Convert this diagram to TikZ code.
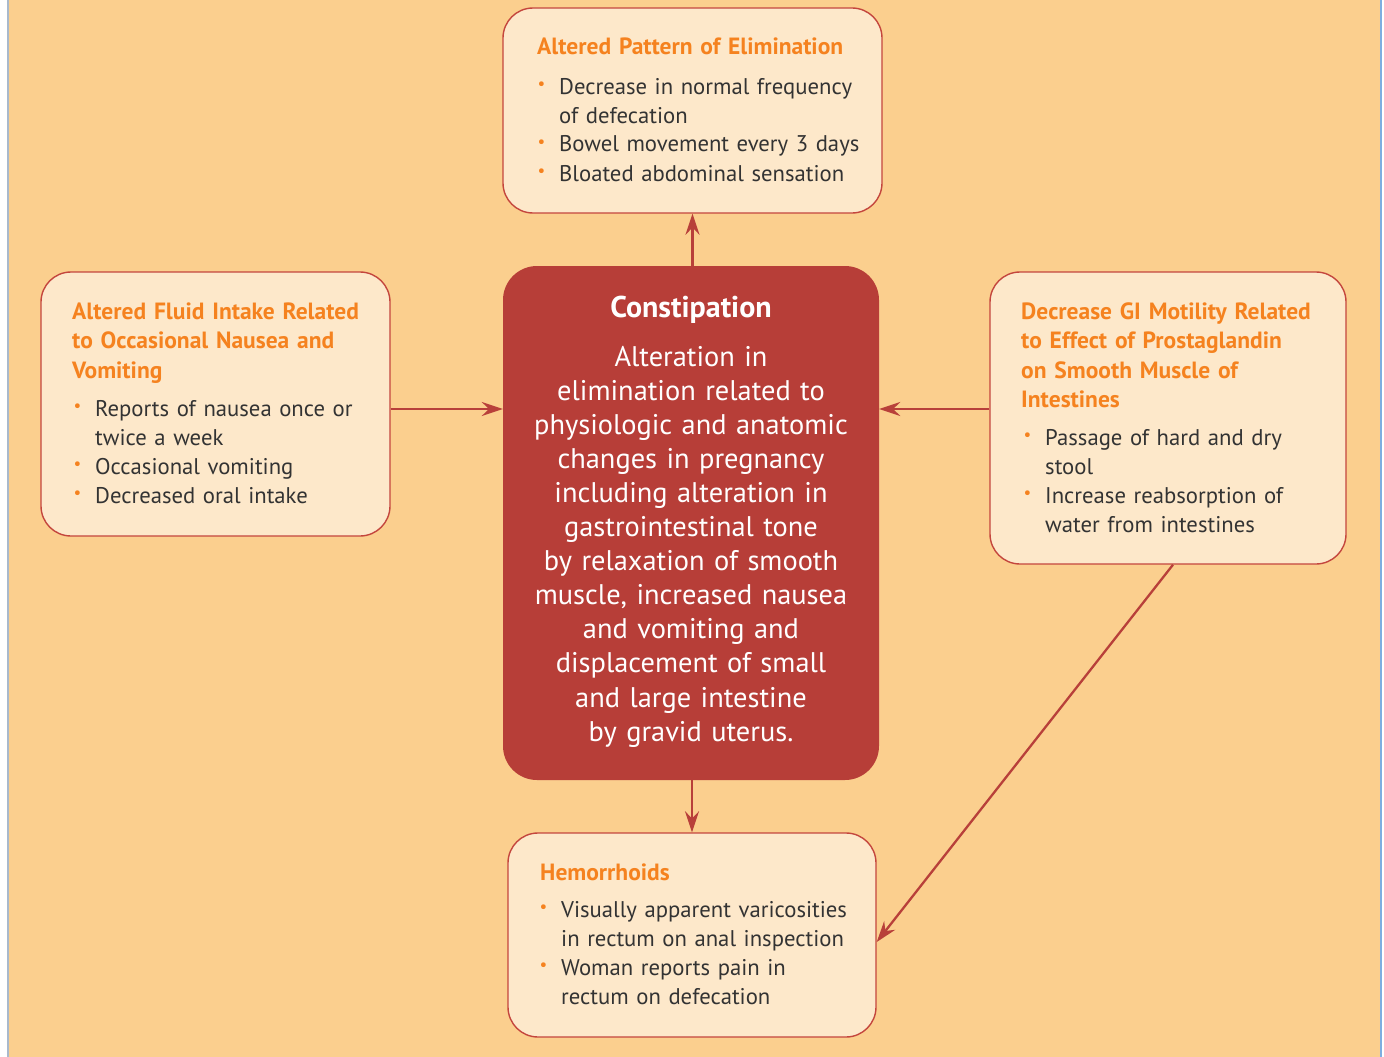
\documentclass[tikz,border=0pt]{standalone}
\usepackage{fontspec}
\usepackage{graphicx}
\setmainfont{PT Sans}
\usetikzlibrary{arrows.meta,calc}
\definecolor{bg}{HTML}{FBCF8E}
\definecolor{boxfill}{HTML}{FDE8CA}
\definecolor{boxline}{HTML}{C4463D}
\definecolor{core}{HTML}{B73E38}
\definecolor{ttl}{HTML}{F5821F}
\definecolor{txt}{HTML}{333333}
\definecolor{arr}{HTML}{B8403A}
\definecolor{lline}{HTML}{A9B9CC}
\definecolor{rline}{HTML}{7EAEE0}
\newcommand\bul{\leavevmode\llap{\textcolor{ttl}{\raisebox{0.22em}{\scalebox{0.75}{\textbullet}}}\hspace{14pt}}}
\tikzset{
  box/.style={draw=boxline, line width=1.4pt, fill=boxfill, rounded corners=30pt, inner sep=0pt},
  corebox/.style={fill=core, rounded corners=34pt, inner sep=0pt},
  ttlstyle/.style={anchor=base west, inner sep=0pt, text width=#1, align=left,
    font=\fontsize{23.5}{29.5}\selectfont\bfseries, text=ttl},
  bodystyle/.style={anchor=base west, inner sep=0pt, text width=#1, align=left,
    font=\fontsize{22.7}{29}\selectfont, text=txt},
  conn/.style={draw=arr, line width=2.3pt, -{Stealth[length=21pt,width=14pt,inset=7pt]}}
}
\begin{document}
\begin{tikzpicture}[x=1pt,y=-1pt]
\useasboundingbox (0,0) rectangle (1384,1057);
\fill[white] (0,0) rectangle (1384,1057);
\fill[bg] (8,0) rectangle (1380,1057);
\draw[lline, line width=2pt] (7.5,0) -- (7.5,1057);
\draw[rline, line width=2pt] (1380.5,0) -- (1380.5,1057);

% boxes
\node[box, minimum width=379pt, minimum height=205pt] (topbox) at (692.5,110.5) {};
\node[box, minimum width=349pt, minimum height=264pt] (leftbox) at (215.5,404) {};
\node[box, minimum width=356pt, minimum height=292pt] (rightbox) at (1168,418) {};
\node[box, minimum width=368pt, minimum height=204pt] (botbox) at (692,935) {};
\node[corebox, minimum width=376pt, minimum height=514pt] (core) at (691,523) {};

% top box text
\node[ttlstyle=340pt] (toptitle) at (537,55) {Altered Pattern of Elimination};
\node[bodystyle=330pt] (topbody) at (559,94) {\bul Decrease in normal frequency\\ of defecation\\ \bul Bowel movement every 3 days\\ \bul Bloated abdominal sensation};

% left box text
\node[ttlstyle=320pt] (lefttitle) at (72,319) {Altered Fluid Intake Related\\ to Occasional Nausea and\\ Vomiting};
\node[bodystyle=290pt] (leftbody) at (95,416) {\bul Reports of nausea once or\\ twice a week\\ \bul Occasional vomiting\\ \bul Decreased oral intake};

% right box text
\node[ttlstyle=320pt] (righttitle) at (1021,319) {Decrease GI Motility Related\\ to Effect of Prostaglandin\\ on Smooth Muscle of\\ Intestines};
\node[bodystyle=300pt] (rightbody) at (1045,445) {\bul Passage of hard and dry\\ stool\\ \bul Increase reabsorption of\\ water from intestines};

% bottom box text
\node[ttlstyle=300pt] (bottitle) at (540,880) {Hemorrhoids};
\node[bodystyle=310pt] (botbody) at (561,917) {\bul Visually apparent varicosities\\ in rectum on anal inspection\\ \bul Woman reports pain in\\ rectum on defecation};

% core text
\node[anchor=base, inner sep=0pt, text=white, font=\fontsize{30}{34}\selectfont\bfseries] (coretitle) at (691,317) {Constipation};
\node[anchor=base, inner sep=0pt, text width=370pt, align=center, text=white, font=\fontsize{28.4}{34.1}\selectfont] (corebody) at (691,366) {Alteration in\\ elimination related to\\ physiologic and anatomic\\ changes in pregnancy\\ including alteration in\\ gastrointestinal tone\\ by relaxation of smooth\\ muscle, increased nausea\\ and vomiting and\\ displacement of small\\ and large intestine\\ by gravid uterus.};

% connectors
\draw[conn] (core.north -| topbox.south) -- (topbox.south);
\draw[conn] (leftbox.east |- 0,409) -- (core.west |- 0,409);
\draw[conn] (rightbox.west |- 0,409) -- (core.east |- 0,409);
\draw[conn] (core.south -| botbox.north) -- (botbox.north);
\draw[conn] ([xshift=5pt]rightbox.south) -- ([yshift=-7pt]botbox.east);
\end{tikzpicture}
\end{document}
